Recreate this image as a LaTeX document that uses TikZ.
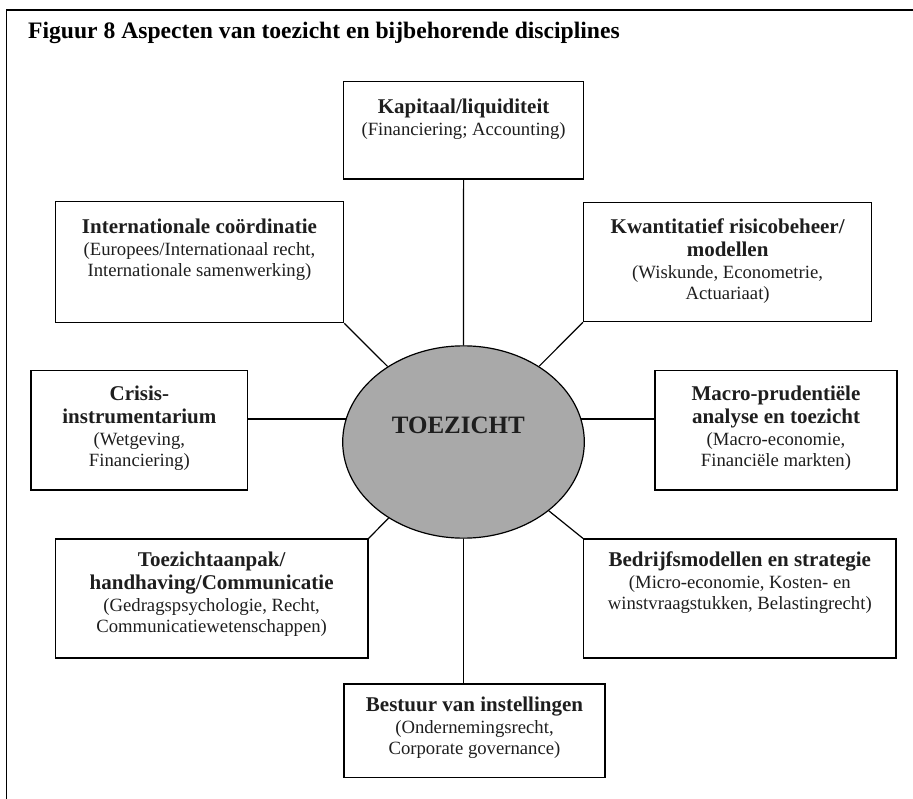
\documentclass[tikz,border=0pt]{standalone}
\usepackage{fontspec}
\setmainfont{Liberation Serif}
\usetikzlibrary{shapes.geometric}
\definecolor{ellfill}{RGB}{169,169,169}
\definecolor{txtgray}{RGB}{30,30,30}
\newcommand{\hd}[1]{{\fontsize{21}{23}\selectfont\bfseries #1}}
\tikzset{
  box/.style={draw, line width=1.2pt, inner sep=0pt, rectangle},
  txt/.style={anchor=north, inner sep=0pt, align=center, text=txtgray,
    font=\fontsize{18.7}{21}\selectfont},
  conn/.style={line width=1.2pt},
}
\begin{document}
\begin{tikzpicture}[x=1pt,y=-1pt]
\useasboundingbox (0,0) rectangle (913,799);
% frame
\draw[line width=1.5pt] (6.7,800) -- (6.7,10) -- (914,10);
\node[anchor=base west, inner sep=0pt, font=\fontsize{23.6}{26}\selectfont\bfseries] (title) at (28,38.3) {Figuur 8 Aspecten van toezicht en bijbehorende disciplines};

% boxes
\node[box, minimum width=240, minimum height=97.3] (kap) at (463.6,130.35) {};
\node[box, minimum width=288.3, minimum height=121] (int) at (199.45,262.2) {};
\node[box, minimum width=288.1, minimum height=119.4] (kwa) at (727.65,262) {};
\node[box, minimum width=216.7, minimum height=119.3] (cri) at (139.35,430.35) {};
\node[box, minimum width=242, minimum height=119.3] (mac) at (776,430.35) {};
\node[box, minimum width=312.7, minimum height=119] (toe) at (211.65,598.5) {};
\node[box, minimum width=312.4, minimum height=119] (bed) at (739.8,598.5) {};
\node[box, minimum width=261, minimum height=93.7] (bes) at (474.5,730.85) {};

% ellipse
\node[ellipse, draw, line width=1.2pt, fill=ellfill, inner sep=0pt, minimum width=241.6, minimum height=192.3] (ell) at (463.5,442) {};
\node[anchor=base, inner sep=0pt, font=\fontsize{25}{28}\selectfont\bfseries, text=txtgray] (tz) at (458.3,433.3) {TOEZICHT};

% texts
\node[txt] (kapt) at (463.6,98.3) {\hd{Kapitaal/liquiditeit}\\[1pt](Financiering; Accounting)};
\node[txt] (intt) at (199.45,218.3) {\hd{Internationale coördinatie}\\[1pt](Europees/Internationaal recht,\\Internationale samenwerking)};
\node[txt] (kwat) at (727.65,218.6) {\hd{Kwantitatief risicobeheer/}\\[2pt]\hd{modellen}\\[1pt](Wiskunde, Econometrie,\\Actuariaat)};
\node[txt] (crit) at (139.35,385.3) {\hd{Crisis-}\\[2pt]\hd{instrumentarium}\\[1pt](Wetgeving,\\Financiering)};
\node[txt] (mact) at (776,385.3) {\hd{Macro-prudentiële}\\[2pt]\hd{analyse en toezicht}\\[1pt](Macro-economie,\\Financiële markten)};
\node[txt] (toet) at (211.65,552) {\hd{Toezichtaanpak/}\\[2pt]\hd{handhaving/Communicatie}\\[1pt](Gedragspsychologie, Recht,\\Communicatiewetenschappen)};
\node[txt] (bedt) at (739.8,551.5) {\hd{Bedrijfsmodellen en strategie}\\[1pt](Micro-economie, Kosten- en\\winstvraagstukken, Belastingrecht)};
\node[txt] (best) at (474.5,696.3) {\hd{Bestuur van instellingen}\\[1pt](Ondernemingsrecht,\\Corporate governance)};

% connectors
\draw[conn] (kap.south) -- (ell.north);
\draw[conn] (int.south east) -- (ell);
\draw[conn] (kwa.south west) -- (ell);
\draw[conn] (toe.north east) -- (ell);
\draw[conn] (bed.north west) -- (ell);
\draw[conn] (ell.south) -- (ell.south |- bes.north);
\draw[conn] (ell.169) -- (ell.169 -| cri.east);
\draw[conn] (ell.11) -- (ell.11 -| mac.west);
\end{tikzpicture}
\end{document}
